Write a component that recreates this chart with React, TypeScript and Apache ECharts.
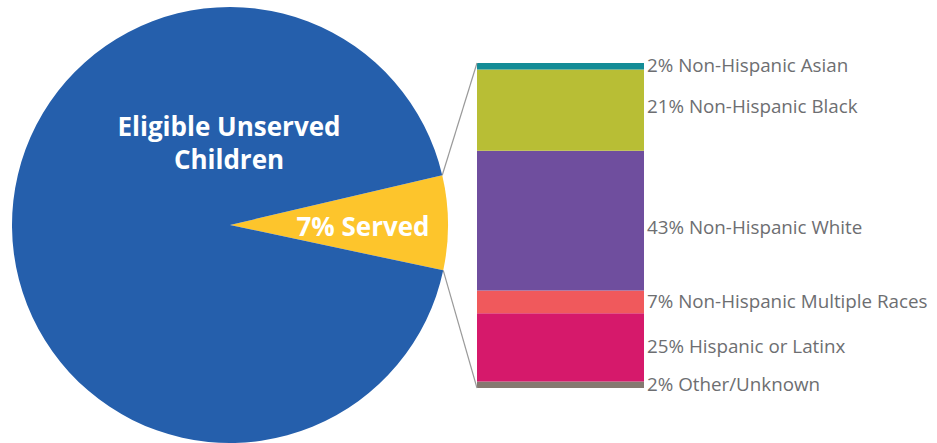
import React, { useEffect, useRef } from "react";
import * as echarts from "echarts";

// Pie: share of eligible children
const pieNames = ["7% Served", "Eligible Unserved\nChildren"];
const pieValues = [7, 93];

// Stacked bar (top to bottom)
const raceNames = [
  "Non-Hispanic Asian",
  "Non-Hispanic Black",
  "Non-Hispanic White",
  "Non-Hispanic Multiple Races",
  "Hispanic or Latinx",
  "Other/Unknown",
];
// stated percentages in the labels
const racePercents = [2, 21, 43, 7, 25, 2];
// segment heights as drawn in the picture
const raceBarShares = [2, 25, 43, 7, 21, 2];
const raceColors = ["#138c96", "#b8be35", "#6f4e9e", "#f0595c", "#d6196b", "#857970"];

const PIE_CX = 230;
const PIE_CY = 225;
const PIE_R = 218;
const START_ANGLE = 13.2;
const GRID_LEFT = 477;
const GRID_TOP = 63;
const GRID_W = 167;
const GRID_H = 325;
const LABEL_OFFSETS: number[][] = [[0, -1], [0, -4], [0, 6], [0, -1], [0, -1], [0, -1]];

export default function App() {
  const ref = useRef<HTMLDivElement>(null);

  useEffect(() => {
    if (!ref.current) return;
    const chart = echarts.init(ref.current, undefined, { renderer: "svg" });

    const total = pieValues.reduce((a, b) => a + b, 0);
    const servedSweep = (pieValues[0] / total) * 360;
    const a1 = (START_ANGLE * Math.PI) / 180;
    const a2 = ((START_ANGLE - servedSweep) * Math.PI) / 180;
    const p1 = [PIE_CX + PIE_R * Math.cos(a1), PIE_CY - PIE_R * Math.sin(a1)];
    const p2 = [PIE_CX + PIE_R * Math.cos(a2), PIE_CY - PIE_R * Math.sin(a2)];

    const order = raceNames.map((_, i) => i).reverse(); // bottom first
    const barSeries = order.map((i) => ({
      type: "bar",
      name: raceNames[i],
      stack: "race",
      barWidth: GRID_W,
      data: [raceBarShares[i]],
      itemStyle: { color: raceColors[i] },
      label: {
        show: true,
        position: "right",
        distance: 3,
        offset: LABEL_OFFSETS[i],
        formatter: () => `${racePercents[i]}% ${raceNames[i]}`,
        color: "#6d6e71",
        fontFamily: "Open Sans",
        fontSize: 18.8,
      },
      silent: true,
    }));

    chart.setOption({
      animation: false,
      grid: { left: GRID_LEFT, top: GRID_TOP, width: GRID_W, height: GRID_H },
      xAxis: { type: "category", data: [""], show: false },
      yAxis: { type: "value", min: 0, max: 100, show: false },
      series: [
        {
          type: "pie",
          center: [PIE_CX, PIE_CY],
          radius: PIE_R,
          startAngle: START_ANGLE,
          clockwise: true,
          label: { show: false },
          labelLine: { show: false },
          silent: true,
          data: [
            { name: pieNames[0], value: pieValues[0], itemStyle: { color: "#fdc52c" } },
            { name: pieNames[1], value: pieValues[1], itemStyle: { color: "#255fac" } },
          ],
        },
        ...barSeries,
      ],
      graphic: [
        {
          type: "line",
          z: 100,
          shape: { x1: p1[0], y1: p1[1], x2: GRID_LEFT, y2: GRID_TOP },
          style: { stroke: "#9a9a9a", lineWidth: 1.2 },
        },
        {
          type: "line",
          z: 100,
          shape: { x1: p2[0], y1: p2[1], x2: GRID_LEFT, y2: GRID_TOP + GRID_H },
          style: { stroke: "#9a9a9a", lineWidth: 1.2 },
        },
        {
          type: "text",
          z: 100,
          x: 229,
          y: 142,
          style: {
            text: pieNames[1],
            fill: "#ffffff",
            font: "bold 26px 'Open Sans'",
            align: "center",
            verticalAlign: "middle",
            lineHeight: 33,
          },
        },
        {
          type: "text",
          z: 100,
          x: 363,
          y: 226,
          style: {
            text: pieNames[0],
            fill: "#ffffff",
            font: "bold 26px 'Open Sans'",
            align: "center",
            verticalAlign: "middle",
          },
        },
      ],
    });

    return () => chart.dispose();
  }, []);

  return (
    <div
      ref={ref}
      style={{ position: "fixed", left: 0, top: 0, width: 937, height: 443, background: "#ffffff" }}
    />
  );
}
